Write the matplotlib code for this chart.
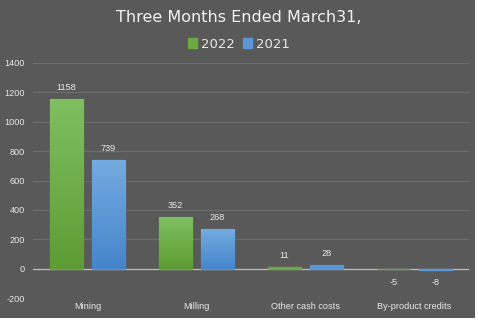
import numpy as np
import matplotlib.pyplot as plt
from matplotlib.patches import Rectangle
from matplotlib.colors import LinearSegmentedColormap

categories = ["Mining", "Milling", "Other cash costs", "By-product credits"]
values_2022 = [1158, 352, 11, -5]
values_2021 = [739, 268, 28, -8]
series_names = ["2022", "2021"]
yticks = [-200, 0, 200, 400, 600, 800, 1000, 1200, 1400]

BG = "#595959"
TXT = "#e8e8e8"
GRID = "#6e6e6e"
FONT = "Liberation Sans"

fig = plt.figure(figsize=(4.78, 3.22), dpi=100)
fig.patch.set_facecolor("white")
fig.patches.append(Rectangle((0, 4 / 322), 475 / 478, 318 / 322,
                             transform=fig.transFigure, facecolor=BG,
                             edgecolor="none", zorder=-10))

ax = fig.add_axes([33 / 478, 1 - 298 / 322, 436 / 478, (298 - 63) / 322])
ax.set_facecolor("none")

x = np.arange(len(categories))
w = 0.31
off = 0.193

green_cmap = LinearSegmentedColormap.from_list("g", ["#5d9c33", "#80bf62"])
blue_cmap = LinearSegmentedColormap.from_list("b", ["#4585cb", "#74abe0"])


def gradient_bars(xs, vals, cmap, base):
    bars = ax.bar(xs, vals, width=w, color=base, edgecolor=base,
                  linewidth=0.9, zorder=3)
    grad = np.linspace(0, 1, 256).reshape(-1, 1)
    for b in bars:
        x0, y0 = b.get_x(), b.get_y()
        bw, bh = b.get_width(), b.get_height()
        lo, hi = min(y0, y0 + bh), max(y0, y0 + bh)
        if hi - lo < 60:
            continue
        im = ax.imshow(grad, extent=(x0, x0 + bw, lo, hi), origin="lower",
                       cmap=cmap, aspect="auto", zorder=4)
        im.set_clip_path(b)
    return bars


b1 = gradient_bars(x - off, values_2022, green_cmap, "#6aaa42")
b2 = gradient_bars(x + off, values_2021, blue_cmap, "#5b97d6")

for bars, vals in ((b1, values_2022), (b2, values_2021)):
    for b, v in zip(bars, vals):
        cx = b.get_x() + b.get_width() / 2
        if v >= 0:
            ax.annotate(str(v), (cx, v), xytext=(0, 5), textcoords="offset points",
                        ha="center", va="bottom", color=TXT, fontsize=6.6,
                        family=FONT, zorder=6)
        else:
            ax.annotate(str(v), (cx, v), xytext=(0, -6), textcoords="offset points",
                        ha="center", va="top", color=TXT, fontsize=6.6,
                        family=FONT, zorder=6)

ax.set_xlim(-0.5, len(categories) - 0.5)
ax.set_ylim(-200, 1400)
ax.set_yticks(yticks)
ax.set_yticklabels([str(t) for t in yticks], family=FONT)
ax.set_xticks(x)
ax.set_xticklabels(categories, family=FONT)
ax.tick_params(axis="both", length=0, colors=TXT, labelsize=6.6)
ax.tick_params(axis="y", pad=6)
ax.tick_params(axis="x", pad=3)

ax.grid(axis="y", color=GRID, linewidth=0.8, zorder=0)
ax.axhline(0, color="#bfbfbf", linewidth=0.9, zorder=2.5)
for s in ax.spines.values():
    s.set_visible(False)

fig.text(0.5, 1 - 18 / 322, "Three Months Ended March31,", ha="center", va="center",
         color="#f2f2f2", fontsize=11.5)

handles = [Rectangle((0, 0), 1, 1, color="#6aaa42"), Rectangle((0, 0), 1, 1, color="#5b97d6")]
fig.legend(handles, series_names, loc="center", bbox_to_anchor=(0.5, 1 - 44 / 322),
           ncol=2, frameon=False, fontsize=9.5, labelcolor=TXT, handlelength=0.7,
           handleheight=0.7, handletextpad=0.3, columnspacing=0.6)

fig.savefig("out.png", dpi=100, facecolor=fig.get_facecolor())
